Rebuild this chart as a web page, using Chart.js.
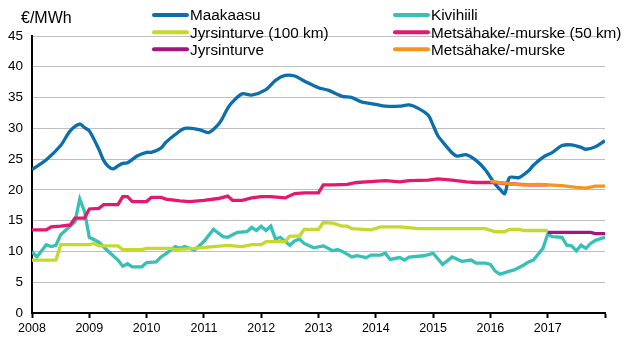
<!DOCTYPE html>
<html>
<head>
<meta charset="utf-8">
<script src="https://cdn.jsdelivr.net/npm/chart.js@4.4.1/dist/chart.umd.min.js"></script>
<style>
  body { margin: 0; background: #fff; }
</style>
</head>
<body>
<canvas id="chart" width="628" height="363"></canvas>
<script>
// x = months since Jan 2008, y = €/MWh
var yearLabels = ['2008', '2009', '2010', '2011', '2012', '2013', '2014', '2015', '2016', '2017'];
var tickMonths = [0, 12, 24, 36, 48, 60, 72, 84, 96, 108, 120];
var seriesNames = ['Maakaasu', 'Kivihiili', 'Jyrsinturve (100 km)', 'Metsähake/-murske (50 km)', 'Jyrsinturve', 'Metsähake/-murske'];

var maakaasu = [[0,23.3],[3,24.9],[6,27.2],[8,29.6],[10,30.7],[11,30.1],[12,29.6],[14,26.6],[15,24.8],[16,23.8],[17,23.4],
  [18,23.9],[19,24.3],[20,24.4],[22,25.5],[24,26.1],[25,26.1],[27,26.8],[28,27.7],[30,29.0],[32,30.0],[35,29.8],[37,29.3],
  [39,30.6],[40,31.8],[41,33.3],[42,34.3],[44,35.6],[46,35.4],[49,36.3],[51,37.8],[53,38.6],[55,38.5],[57,37.7],[60,36.6],
  [62,36.2],[65,35.2],[67,35.0],[69,34.3],[72,33.9],[74,33.6],[77,33.6],[79,33.8],[81,33.2],[83,32.1],[84,30.5],[85,28.8],
  [86,27.8],[88,26.0],[89,25.5],[91,25.7],[93,24.8],[95,23.2],[97,20.9],[98,20.1],[99,19.4],[100,22.0],[102,22.0],[104,23.1],
  [105,24.0],[107,25.3],[109,26.1],[111,27.2],[113,27.3],[115,26.9],[116,26.6],[118,27.0],[120,28.0]];

var kivihiili = [[0,10.0],[1,9.1],[3,11.1],[4,10.8],[5,11.0],[6,12.7],[7,13.4],[9,14.8],[10,18.5],[11,16.5],[12,12.3],
  [14,11.5],[16,10.0],[18,8.6],[19,7.6],[20,8.0],[21,7.5],[23,7.5],[24,8.2],[26,8.3],[27,9.1],[28,9.6],[30,10.8],[31,10.5],
  [32,10.8],[34,10.2],[36,11.6],[38,13.6],[40,12.4],[41,12.3],[43,13.1],[45,13.2],[46,13.9],[47,13.4],[48,14.1],[49,13.4],
  [50,14.1],[51,12.0],[52,12.3],[54,11.0],[55,11.7],[56,12.0],[57,11.3],[59,10.6],[61,10.9],[63,10.1],[64,10.3],[65,10.0],
  [67,9.1],[68,9.3],[70,9.0],[71,9.4],[73,9.4],[74,9.7],[75,8.7],[77,9.0],[78,8.6],[79,9.1],[82,9.3],[84,9.7],[86,7.9],
  [88,9.1],[90,8.4],[92,8.6],[93,8.1],[95,8.1],[96,7.9],[97,6.8],[98,6.3],[100,6.8],[101,7.0],[103,7.8],[104,8.3],[105,8.6],
  [107,10.5],[108,12.8],[109,12.4],[111,12.3],[112,11.0],[113,10.9],[114,10.1],[115,11.0],[116,10.5],[117,11.3],[118,11.8],[120,12.3]];

var jyrsinturve100 = [[0,8.6],[5,8.6],[6,11.1],[12,11.1],[13,11.3],[14,10.9],[18,10.9],[19,10.3],[23,10.3],[24,10.5],
  [29,10.5],[30,10.3],[34,10.5],[38,10.8],[41,11.0],[44,10.8],[46,11.1],[48,11.1],[49,11.6],[53,11.6],[54,12.5],[56,12.5],
  [57,13.6],[60,13.6],[61,14.7],[63,14.6],[65,14.1],[66,14.1],[67,13.7],[71,13.5],[73,14.0],[77,14.0],[81,13.7],[95,13.7],
  [97,13.2],[99,13.2],[100,13.6],[102,13.6],[103,13.4],[108,13.4]];

var metsahake50 = [[0,13.5],[3,13.5],[4,14.0],[6,14.1],[8,14.3],[9,15.4],[11,15.4],[12,16.9],[14,17.0],[15,17.6],[18,17.6],
  [19,18.9],[20,18.9],[21,18.1],[24,18.1],[25,18.8],[27,18.8],[28,18.5],[31,18.2],[33,18.1],[36,18.3],[39,18.6],[41,19.0],
  [42,18.3],[44,18.3],[46,18.7],[48,18.9],[50,18.9],[53,18.7],[55,19.4],[57,19.5],[60,19.5],[61,20.8],[63,20.8],[66,20.9],
  [68,21.2],[70,21.3],[74,21.5],[77,21.3],[79,21.5],[83,21.6],[85,21.8],[88,21.6],[91,21.3],[93,21.2],[97,21.2],[100,21.0],
  [104,20.8],[108,20.8]];

var jyrsinturve = [[108,13.1],[117,13.1],[118,12.9],[120,12.9]];

var metsahake = [[96,21.4],[99,21.1],[101,20.9],[103,20.8],[106,20.9],[108,20.8],[111,20.7],[114,20.4],[116,20.3],[118,20.6],[120,20.6]];

var allSeries = [maakaasu, kivihiili, jyrsinturve100, metsahake50, jyrsinturve, metsahake];
var colors = ['#0b6ead', '#35c1b7', '#c5d92c', '#e5186f', '#a3157f', '#f7941d'];

var datasets = allSeries.map(function(s, i){
    return {
        label: seriesNames[i],
        data: s.map(function(p){ return {x: p[0], y: p[1]}; }),
        borderColor: colors[i],
        backgroundColor: colors[i],
        borderWidth: 3.3,
        tension: i === 0 ? 0.3 : 0,
        pointRadius: 0,
        fill: false,
        order: allSeries.length - i   // later series on top
    };
});

//legend in two columns + unit text, drawn by hand
var legendPlugin = {
    id: 'legendGrid',
    afterDraw: function(chart){
        var c = chart.ctx;
        c.save();
        c.textBaseline = 'middle';
        c.fillStyle = '#000';
        c.font = '16px "Liberation Sans", Arial, sans-serif';
        c.fillText('€/MWh', 21, 19);
        c.font = '15.3px "Liberation Sans", Arial, sans-serif';
        var colX = [153, 394];
        var rowY = [15, 32.3, 49.3];
        seriesNames.forEach(function(name, i){
            var x = colX[i % 2];
            var y = rowY[Math.floor(i / 2)];
            c.strokeStyle = colors[i];
            c.lineWidth = 4;
            c.lineCap = 'round';
            c.beginPath();
            c.moveTo(x + 1, y);
            c.lineTo(x + 34, y);
            c.stroke();
            c.fillStyle = '#000';
            c.fillText(name, x + 37, y + 1);
        });
        c.restore();
    }
};

var chart = new Chart(document.getElementById('chart'), {
    type: 'line',
    data: { datasets: datasets },
    plugins: [legendPlugin],
    options: {
        responsive: false,
        animation: false,
        layout: { padding: { top: 36, right: 23, left: 0, bottom: 0 } },
        plugins: {
            legend: { display: false },
            tooltip: { enabled: false }
        },
        scales: {
            x: {
                type: 'linear',
                min: 0,
                max: 120,
                afterBuildTicks: function(axis){
                    axis.ticks = tickMonths.map(function(v){ return {value: v}; });
                },
                afterFit: function(axis){ axis.height = 50; },
                ticks: {
                    autoSkip: false,
                    maxRotation: 0,
                    padding: 3,
                    color: '#000',
                    font: { family: '"Liberation Sans", Arial, sans-serif', size: 12.5 },
                    callback: function(v){
                        var k = tickMonths.indexOf(v);
                        return k >= 0 && k < yearLabels.length ? yearLabels[k] : '';
                    }
                },
                grid: { drawOnChartArea: false, drawTicks: true, tickLength: 5, tickColor: '#000', tickWidth: 2 },
                border: { color: '#000', width: 2 }
            },
            y: {
                min: 0,
                max: 45,
                afterFit: function(axis){ axis.width = 32; },
                ticks: {
                    stepSize: 5,
                    padding: 9,
                    color: '#000',
                    font: { family: '"Liberation Sans", Arial, sans-serif', size: 13.5 }
                },
                grid: { color: '#bfbfbf', lineWidth: 1, drawTicks: false },
                border: { color: '#000', width: 2 }
            }
        }
    }
});
</script>
</body>
</html>
